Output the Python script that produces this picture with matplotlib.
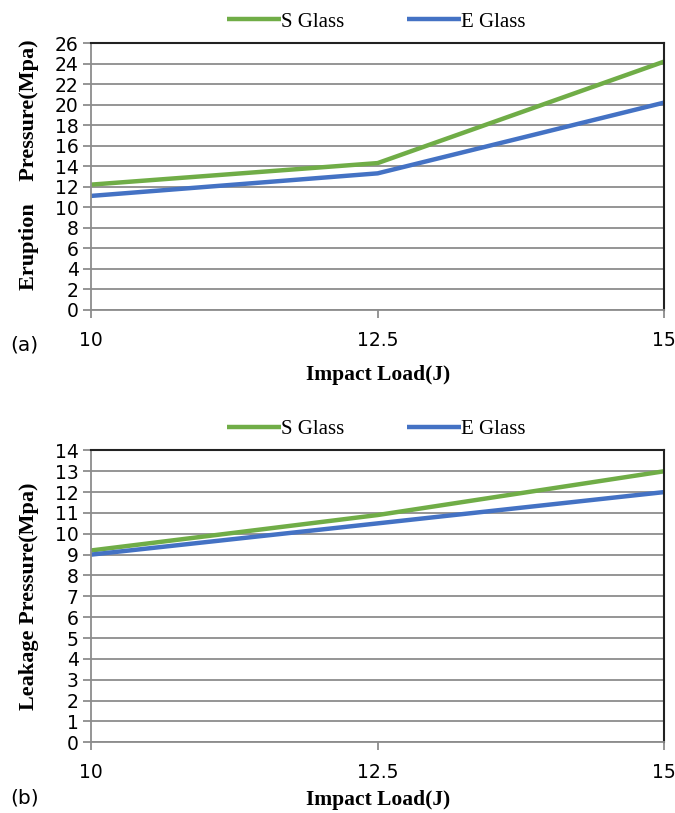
import matplotlib.pyplot as plt
import numpy as np

# data
loads = ['10', '12.5', '15']
eruption_s = [12.2, 14.3, 24.2]
eruption_e = [11.1, 13.3, 20.2]
leakage_s = [9.2, 10.9, 13.0]
leakage_e = [9.0, 10.5, 12.0]

GREEN = '#70AD47'
BLUE = '#4472C4'
GRID = '#8c8c8c'
SERIF = 'Liberation Serif'
SANS = 'DejaVu Sans'

fig = plt.figure(figsize=(6.75, 8.13), dpi=100, facecolor='w')


def panel(rect, s_vals, e_vals, ymax, ystep, ylabel, ylab_y, xlab_y, tag, tag_y):
    ax = fig.add_axes(rect)
    x = np.arange(len(loads))
    ax.plot(x, s_vals, color=GREEN, lw=3.2, label='S Glass', solid_capstyle='butt')
    ax.plot(x, e_vals, color=BLUE, lw=3.2, label='E Glass', solid_capstyle='butt')
    ax.set_xlim(0, len(loads) - 1)
    ax.set_ylim(0, ymax)
    ax.set_yticks(np.arange(0, ymax + 0.1, ystep))
    ax.set_xticks(x)
    ax.set_xticklabels(loads)
    ax.yaxis.grid(True, color=GRID, lw=1.3)
    ax.set_axisbelow(True)
    for side in ['top', 'right']:
        ax.spines[side].set_color('#222222')
        ax.spines[side].set_linewidth(1.5)
    for side in ['left', 'bottom']:
        ax.spines[side].set_color(GRID)
        ax.spines[side].set_linewidth(1.3)
    ax.tick_params(axis='y', length=6, width=1.3, color=GRID, labelsize=13.5, pad=3)
    ax.tick_params(axis='x', length=6, width=1.3, color=GRID, labelsize=13.5, pad=9)
    for lab in ax.get_xticklabels() + ax.get_yticklabels():
        lab.set_family(SANS)
    ax.set_xlabel('Impact Load(J)', family=SERIF, fontweight='bold', fontsize=15.5, va='center')
    ax.xaxis.set_label_coords(0.5, xlab_y)
    ax.set_ylabel(ylabel, family=SERIF, fontweight='bold', fontsize=16, va='center')
    ax.yaxis.set_label_coords(-0.108, ylab_y)
    ax.legend(loc='lower center', bbox_to_anchor=(0.497, 1.0), ncol=2, frameon=False,
              prop={'family': SERIF, 'size': 15}, handlelength=2.6, handletextpad=0.0,
              columnspacing=3.0, borderaxespad=0.15)
    fig.text(0.015, tag_y, tag, family=SANS, fontsize=14.5, va='center')
    return ax


panel([0.135, 0.619, 0.849, 0.328], eruption_s, eruption_e, 26, 2,
      'Eruption    Pressure(Mpa)', 0.545, -0.243, '(a)', 0.576)
panel([0.135, 0.087, 0.849, 0.359], leakage_s, leakage_e, 14, 1,
      'Leakage Pressure(Mpa)', 0.5, -0.199, '(b)', 0.018)

plt.savefig('out.png', dpi=100)
